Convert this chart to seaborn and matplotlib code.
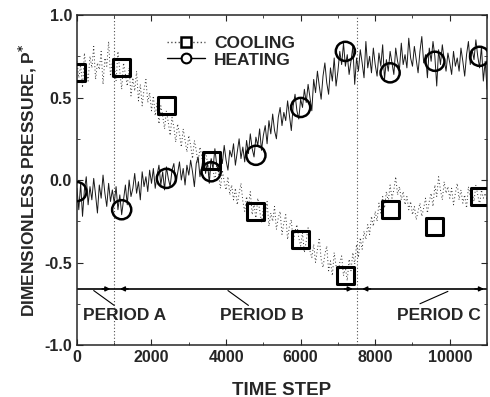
import numpy as np
import pandas as pd
import seaborn as sns
from matplotlib import pyplot as plt
from matplotlib.lines import Line2D
from matplotlib.ticker import MultipleLocator

# time axis of the traces, one value every 50 steps
time_step = list(range(0, 11050, 50))

heating_trace = [
    -0.05, -0.18, -0.02, -0.22, -0.06, 0.02, -0.15, -0.04, -0.12, 0.01, -0.09, -0.20, -0.03, -0.11, 0.03, -0.08, -0.16, -0.02, -0.13, -0.06,
    -0.14, -0.04, -0.18, -0.09, -0.21, -0.12, -0.03, -0.15, 0.00, -0.10, -0.05, 0.04, -0.08, -0.01, -0.12, 0.05, -0.04, 0.02, -0.07, 0.06,
    -0.02, 0.07, -0.05, 0.03, 0.09, -0.03, 0.05, -0.06, 0.08, 0.01, -0.04, 0.06, 0.10, -0.02, 0.04, 0.11, 0.00, 0.07, -0.03, 0.09,
    0.03, 0.12, 0.05, -0.04, 0.10, 0.14, 0.02, 0.08, 0.16, 0.04, 0.11, -0.02, 0.13, 0.07, 0.19, 0.09, 0.05, 0.17, 0.10, 0.21,
    0.12, 0.06, 0.18, 0.14, 0.22, 0.09, 0.17, 0.25, 0.13, 0.20, 0.11, 0.24, 0.16, 0.28, 0.19, 0.14, 0.26, 0.21, 0.31, 0.18,
    0.27, 0.33, 0.22, 0.36, 0.28, 0.40, 0.30, 0.25, 0.38, 0.44, 0.33, 0.41, 0.36, 0.48, 0.39, 0.30, 0.45, 0.52, 0.42, 0.37,
    0.49, 0.44, 0.55, 0.47, 0.58, 0.50, 0.42, 0.61, 0.53, 0.66, 0.57, 0.49, 0.63, 0.71, 0.59, 0.52, 0.68, 0.60, 0.74, 0.57,
    0.66, 0.78, 0.70, 0.83, 0.69, 0.76, 0.64, 0.72, 0.81, 0.58, 0.74, 0.66, 0.79, 0.71, 0.62, 0.84, 0.68, 0.75, 0.65, 0.80,
    0.70, 0.63, 0.77, 0.69, 0.82, 0.61, 0.73, 0.66, 0.78, 0.71, 0.64, 0.80, 0.72, 0.67, 0.83, 0.70, 0.76, 0.68, 0.86, 0.74,
    0.69, 0.81, 0.73, 0.65, 0.78, 0.87, 0.71, 0.76, 0.62, 0.80, 0.72, 0.84, 0.75, 0.57, 0.79, 0.70, 0.82, 0.73, 0.66, 0.77,
    0.71, 0.64, 0.78, 0.69, 0.74, 0.66, 0.80, 0.72, 0.63, 0.76, 0.84, 0.70, 0.79, 0.73, 0.85, 0.75, 0.68, 0.81, 0.60, 0.72,
    0.55,
]

cooling_trace = [
    0.72, 0.62, 0.70, 0.56, 0.77, 0.66, 0.60, 0.75, 0.68, 0.81, 0.61, 0.71, 0.67, 0.78, 0.58, 0.74, 0.69, 0.84, 0.63, 0.72,
    0.70, 0.60, 0.78, 0.66, 0.55, 0.71, 0.64, 0.57, 0.68, 0.51, 0.62, 0.54, 0.66, 0.48, 0.58, 0.45, 0.55, 0.61, 0.47, 0.53,
    0.42, 0.51, 0.39, 0.47, 0.34, 0.45, 0.39, 0.31, 0.42, 0.35, 0.27, 0.38, 0.32, 0.23, 0.34, 0.28, 0.20, 0.31, 0.24, 0.17,
    0.27, 0.21, 0.13, 0.24, 0.18, 0.10, 0.20, 0.14, 0.06, 0.17, 0.11, 0.03, 0.13, 0.07, -0.01, 0.10, 0.03, -0.05, 0.06, -0.01,
    -0.06, 0.02, -0.09, -0.03, -0.12, -0.05, -0.15, -0.08, -0.02, -0.13, -0.19, -0.10, -0.16, -0.07, -0.21, -0.14, -0.24, -0.11, -0.18, -0.26,
    -0.17, -0.22, -0.13, -0.28, -0.20, -0.25, -0.16, -0.30, -0.23, -0.19, -0.33, -0.26, -0.21, -0.36, -0.28, -0.24, -0.38, -0.31, -0.27, -0.35,
    -0.40, -0.32, -0.44, -0.37, -0.29, -0.43, -0.47, -0.39, -0.50, -0.42, -0.35, -0.48, -0.53, -0.45, -0.40, -0.55, -0.49, -0.58, -0.44, -0.52,
    -0.57, -0.50, -0.46, -0.58, -0.53, -0.61, -0.48, -0.55, -0.44, -0.51, -0.39, -0.47, -0.35, -0.42, -0.31, -0.36, -0.27, -0.33, -0.22, -0.28,
    -0.19, -0.25, -0.14, -0.20, -0.10, -0.17, -0.07, -0.13, -0.03, -0.11, -0.06, 0.02, -0.09, -0.04, -0.12, -0.07, -0.15, -0.10, -0.18, -0.13,
    -0.21, -0.16, -0.24, -0.19, -0.14, -0.22, -0.17, -0.11, -0.20, -0.13, -0.08, -0.16, -0.03, -0.10, 0.02, -0.06, -0.12, -0.01, -0.08, -0.04,
    -0.11, -0.05, -0.15, -0.08, -0.02, -0.12, -0.06, -0.14, -0.09, -0.17, -0.04, -0.10, -0.07, -0.13, -0.03, -0.09, -0.15, -0.06, -0.11, -0.08,
    -0.12,
]

# symbols every 1200 steps
marker_step = [0, 1200, 2400, 3600, 4800, 6000, 7200, 8400, 9600, 10800]
cooling_marks = [0.65, 0.68, 0.45, 0.12, -0.19, -0.36, -0.58, -0.18, -0.28, -0.10]
heating_marks = [-0.07, -0.18, 0.01, 0.05, 0.15, 0.44, 0.78, 0.65, 0.72, 0.75]

period_bounds = [1000, 7500]
period_labels = ['PERIOD A', 'PERIOD B', 'PERIOD C']

traces = pd.DataFrame({'t': time_step, 'cool': cooling_trace, 'heat': heating_trace})
marks = pd.DataFrame({'t': marker_step, 'cool': cooling_marks, 'heat': heating_marks})

sns.set_style('ticks')
plt.rcParams['font.family'] = ['Liberation Sans', 'DejaVu Sans']
plt.rcParams['font.weight'] = 'bold'
plt.rcParams['mathtext.default'] = 'bf'
plt.rcParams['axes.unicode_minus'] = False

fig = plt.figure(figsize=(4.9, 3.97), dpi=100)
ax = fig.add_axes([0.157, 0.131, 0.837, 0.831])

sns.lineplot(data=traces, x='t', y='cool', ax=ax, color='0.2', lw=0.7, ls=(0, (1, 2.5)))
sns.lineplot(data=traces, x='t', y='heat', ax=ax, color='0.1', lw=0.7)
sns.scatterplot(data=marks, x='t', y='cool', ax=ax, marker='s', s=150,
                facecolor='none', edgecolor='black', linewidth=2.2, zorder=5)
sns.scatterplot(data=marks, x='t', y='heat', ax=ax, marker='o', s=190,
                facecolor='none', edgecolor='black', linewidth=1.8, zorder=5)

for b in period_bounds:
    ax.axvline(b, color='0.3', lw=0.8, ls=(0, (1, 2)))

# period bar with arrows
yb = -0.66
ax.plot([0, 11000], [yb, yb], color='black', lw=1.2)
arrow = dict(arrowstyle='-|>', color='black', lw=1.0, mutation_scale=7)
ax.annotate('', xy=(period_bounds[0] - 30, yb), xytext=(period_bounds[0] - 400, yb), arrowprops=arrow)
ax.annotate('', xy=(period_bounds[0] + 80, yb), xytext=(period_bounds[0] + 450, yb), arrowprops=arrow)
ax.annotate('', xy=(period_bounds[1] - 30, yb), xytext=(period_bounds[1] - 400, yb), arrowprops=arrow)
ax.annotate('', xy=(period_bounds[1] + 80, yb), xytext=(period_bounds[1] + 450, yb), arrowprops=arrow)
ax.annotate('', xy=(10990, yb), xytext=(10600, yb), arrowprops=arrow)

ax.text(1290, -0.82, period_labels[0], ha='center', va='center', fontsize=12.5)
ax.text(4950, -0.82, period_labels[1], ha='center', va='center', fontsize=12.5)
ax.text(9720, -0.82, period_labels[2], ha='center', va='center', fontsize=12.5)
ax.plot([1000, 450], [-0.76, -0.67], color='black', lw=0.8)
ax.plot([4600, 4050], [-0.76, -0.67], color='black', lw=0.8)
ax.plot([9200, 9950], [-0.75, -0.675], color='black', lw=0.8)

ax.set_xlim(0, 11000)
ax.set_ylim(-1.0, 1.0)
ax.xaxis.set_major_locator(MultipleLocator(2000))
ax.xaxis.set_minor_locator(MultipleLocator(1000))
ax.yaxis.set_major_locator(MultipleLocator(0.5))
ax.yaxis.set_minor_locator(MultipleLocator(0.25))
ax.tick_params(which='both', direction='in', top=True, right=True, labelsize=11.5)
ax.tick_params(which='major', length=4)
ax.tick_params(which='minor', length=2)
for sp in ax.spines.values():
    sp.set_linewidth(1.1)

ax.set_xlabel('TIME STEP', fontsize=13.5, fontweight='bold', labelpad=12)
ax.set_ylabel('DIMENSIONLESS PRESSURE, P$^{*}$', fontsize=12.5, fontweight='bold', labelpad=4)

handles = [
    Line2D([], [], color='0.3', ls=':', lw=1.0, marker='s', markersize=7,
           markerfacecolor='white', markeredgecolor='black', markeredgewidth=1.8),
    Line2D([], [], color='black', lw=1.0, marker='o', markersize=7,
           markerfacecolor='white', markeredgecolor='black', markeredgewidth=1.5),
]
ax.legend(handles, ['COOLING', 'HEATING'], loc='upper left', bbox_to_anchor=(0.19, 0.975),
          frameon=False, fontsize=12.5, handlelength=2.2, handletextpad=0.5,
          labelspacing=0.1, borderpad=0.2)

fig.savefig('out.png', dpi=100)
